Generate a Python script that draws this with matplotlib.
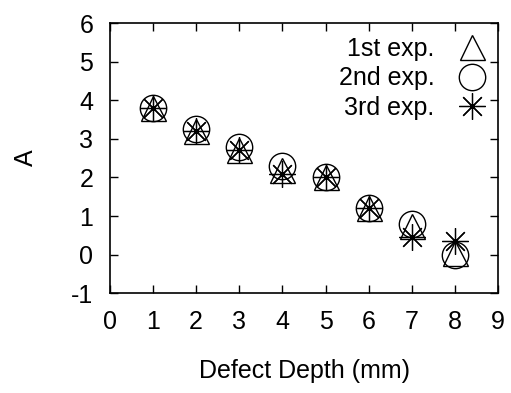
import matplotlib
matplotlib.use("Agg")
import matplotlib.pyplot as plt

# Daten
depth = [1, 2, 3, 4, 5, 6, 7, 8]
exp1 = [3.8, 3.2, 2.7, 2.2, 2.0, 1.2, 0.75, 0.05]
exp2 = [3.8, 3.25, 2.8, 2.3, 2.0, 1.2, 0.8, 0.0]
exp3 = [3.8, 3.2, 2.7, 2.1, 2.0, 1.2, 0.45, 0.35]
labels = ["1st exp.", "2nd exp.", "3rd exp."]

plt.rcParams['font.family'] = ['Liberation Sans', 'DejaVu Sans']
plt.rcParams['axes.unicode_minus'] = False

fig = plt.figure(figsize=(5.11, 3.93), dpi=100)
ax = fig.add_axes([0.215, 0.254, 0.76, 0.687])

ax.plot(depth, exp1, linestyle='none', marker='^', markersize=18,
        markerfacecolor='none', markeredgecolor='black', markeredgewidth=1.0, label=labels[0])
ax.plot(depth, exp2, linestyle='none', marker='o', markersize=19,
        markerfacecolor='none', markeredgecolor='black', markeredgewidth=1.0, label=labels[1])
ax.plot(depth, exp3, linestyle='none', marker=(8, 2, 0), markersize=19,
        color='black', markeredgewidth=0.9, label=labels[2])

ax.set_xlim(0, 9)
ax.set_ylim(-1, 6)
ax.set_xticks(range(0, 10))
ax.set_yticks(range(-1, 7))
ax.tick_params(direction='in', length=6, width=1, top=True, right=True,
               labelsize=18, pad=12)
for s in ax.spines.values():
    s.set_linewidth(1.2)

ax.set_xlabel('Defect Depth (mm)', fontsize=18, labelpad=18)
ax.set_ylabel('A', fontsize=18, labelpad=24)

ax.legend(loc='upper right', frameon=False, markerfirst=False, fontsize=18,
          handletextpad=1.0, labelspacing=0.22, borderaxespad=0.15,
          handlelength=1.0, markerscale=1.0)

plt.savefig('out.png', dpi=100)
plt.close()
